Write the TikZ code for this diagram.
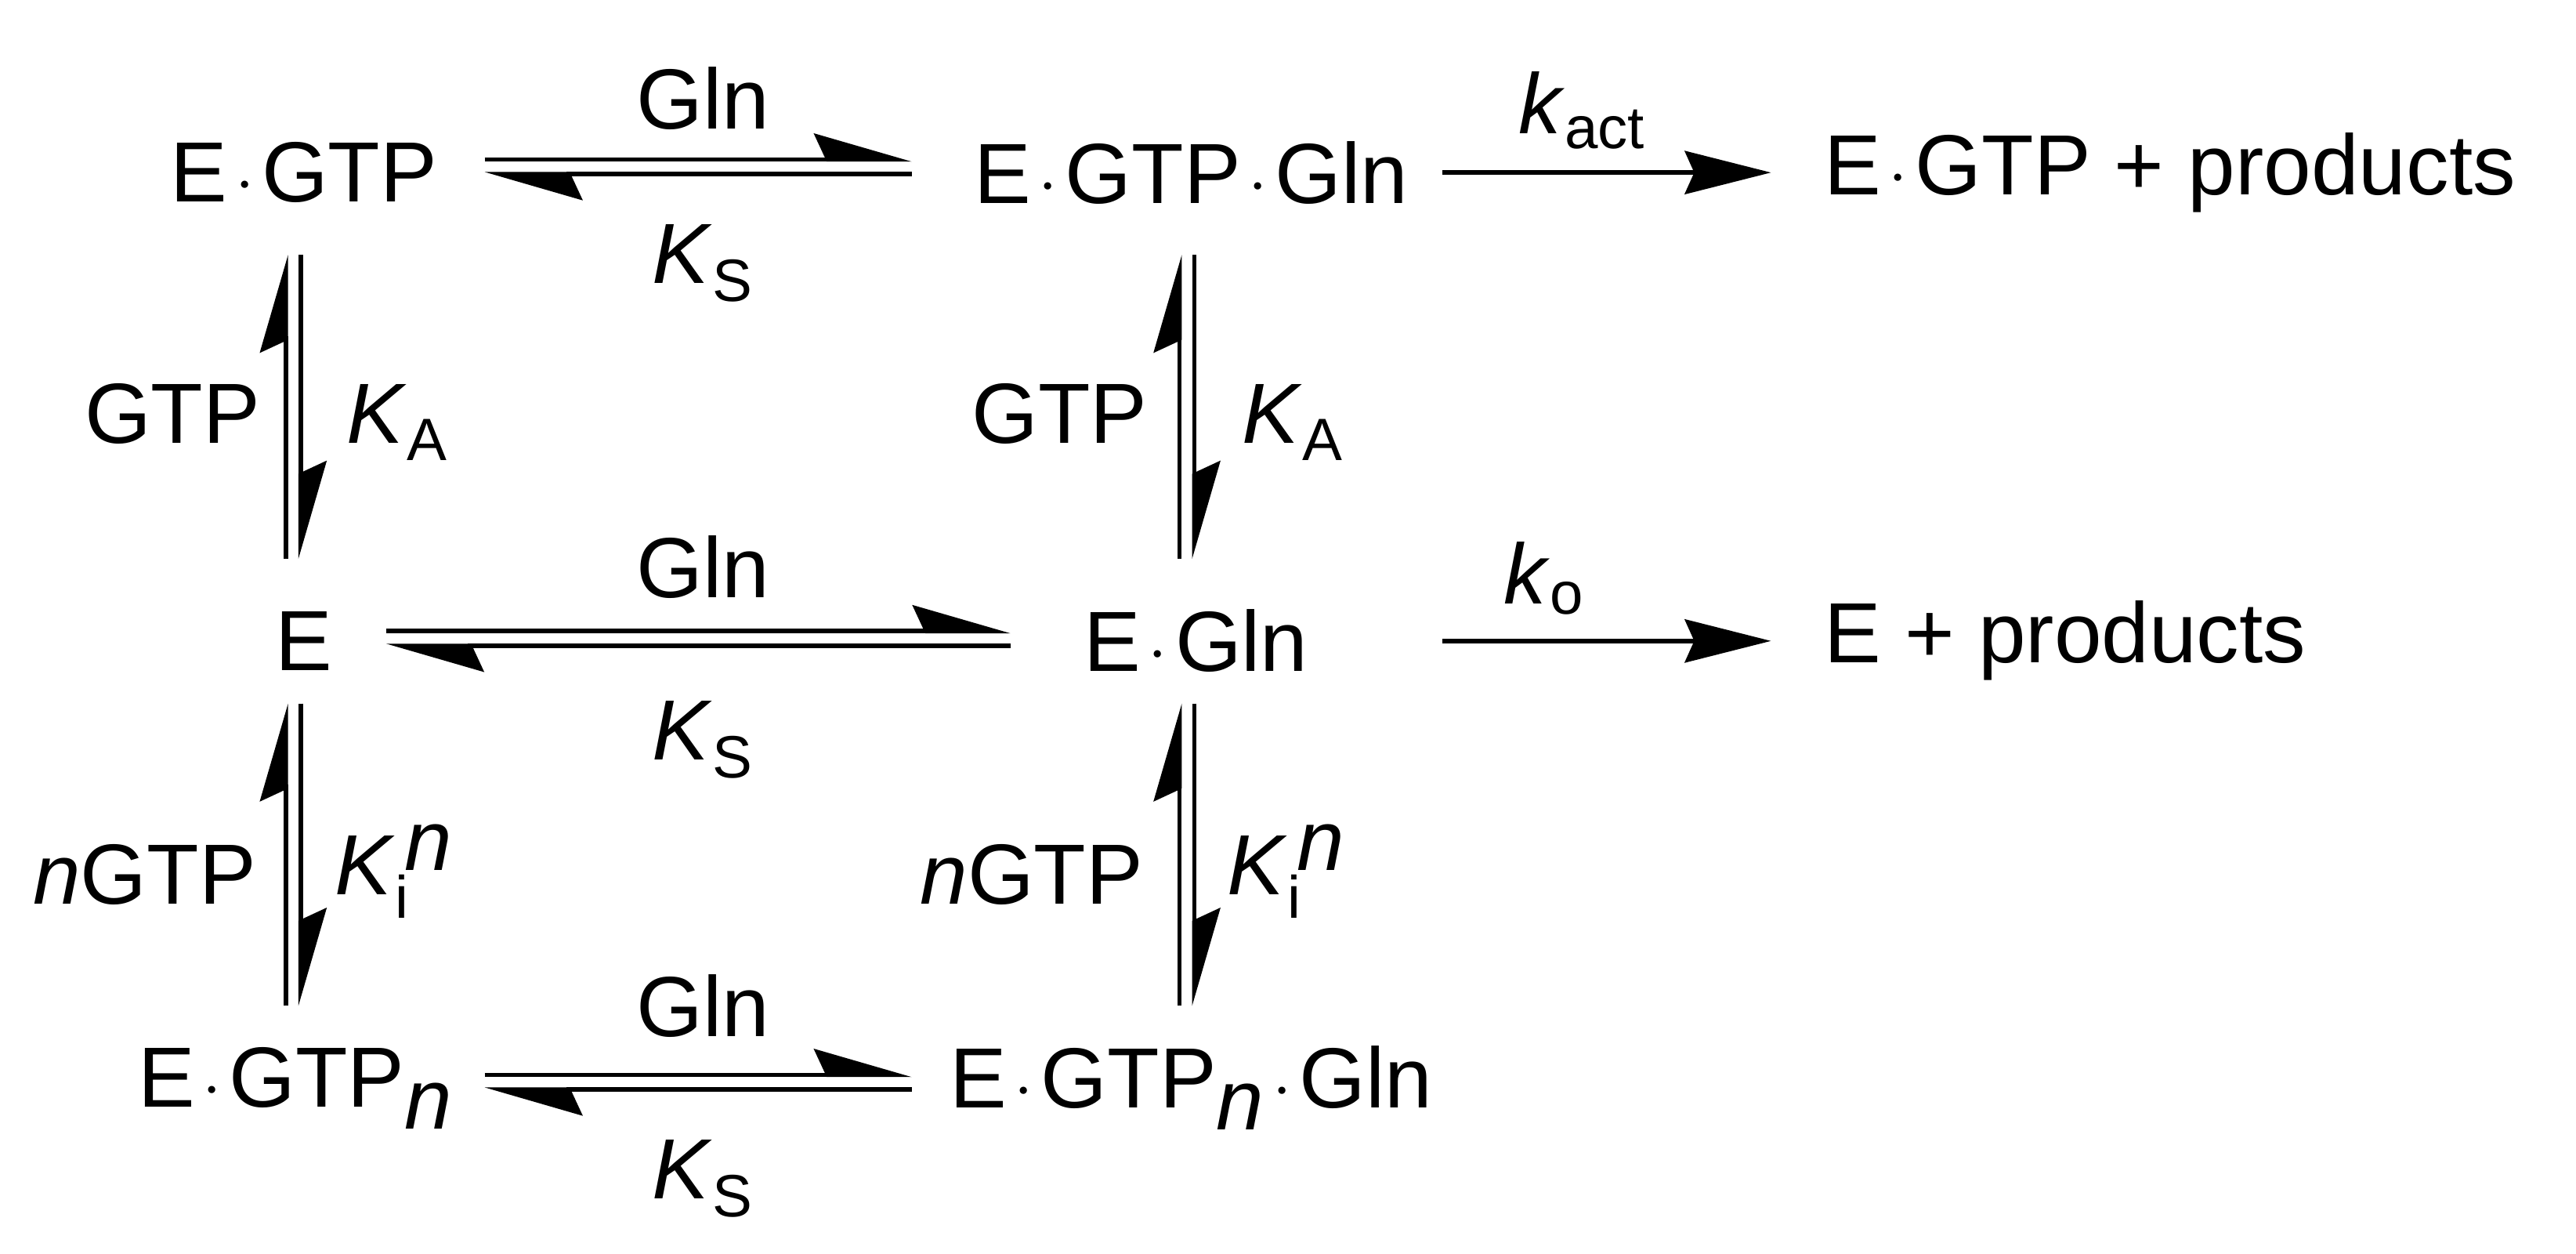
\documentclass[tikz,border=0pt]{standalone}
\usepackage{fontspec}
\setmainfont{Liberation Sans}
\usetikzlibrary{arrows.meta}
\newcommand{\dt}{$\mkern2mu\cdot\mkern2mu$}
\begin{document}
\begin{tikzpicture}[x=0.02097cm,y=-0.02097cm,
  lbl/.style={font=\fontsize{31}{36}\selectfont, inner sep=0pt},
  eq/.style={line width=1.6pt, -{Stealth[harpoon,length=1.15cm,width=0.66cm,inset=0.15cm]}},
  fw/.style={line width=1.6pt, -{Stealth[length=1.1cm,width=0.55cm,inset=0.12cm]}}]
\useasboundingbox (0,0) rectangle (1568,763);
% species
\node[lbl] (egtp) at (185,105) {E\dt GTP};
\node[lbl] (egtpgln) at (725,105) {E\dt GTP\dt Gln};
\node[lbl,anchor=west] (prod1) at (1110,105) {E\dt GTP + products};
\node[lbl] (e) at (185,390) {E};
\node[lbl] (egln) at (728,390) {E\dt Gln};
\node[lbl,anchor=west] (prod2) at (1110,390) {E + products};
\node[lbl] (egtpn) at (180,662) {E\dt GTP$_{\textit{n}}$};
\node[lbl] (egtpngln) at (725,662) {E\dt GTP$_{\textit{n}}$\dt Gln};
% labels
\node[lbl] (g1) at (428,60) {Gln};
\node[lbl] (s1) at (428,160) {\textit{K}$_{\mathrm{S}}$};
\node[lbl] (g2) at (428,345) {Gln};
\node[lbl] (s2) at (428,450) {\textit{K}$_{\mathrm{S}}$};
\node[lbl] (g3) at (428,612) {Gln};
\node[lbl] (s3) at (428,717) {\textit{K}$_{\mathrm{S}}$};
\node[lbl] (a1) at (105,252) {GTP};
\node[lbl] (ka1) at (242,257) {\textit{K}$_{\mathrm{A}}$};
\node[lbl] (a2) at (645,252) {GTP};
\node[lbl] (ka2) at (787,257) {\textit{K}$_{\mathrm{A}}$};
\node[lbl] (n1) at (88,532) {\textit{n}GTP};
\node[lbl] (ki1) at (240,530) {\textit{K}$_{\mathrm{i}}^{\,\textit{n}}$};
\node[lbl] (n2) at (628,532) {\textit{n}GTP};
\node[lbl] (ki2) at (783,530) {\textit{K}$_{\mathrm{i}}^{\,\textit{n}}$};
\node[lbl] (kact) at (963,67) {\textit{k}$_{\mathrm{act}}$};
\node[lbl] (ko) at (940,352) {\textit{k}$_{\mathrm{o}}$};
% coordinates
\coordinate (t1a) at (295,97); \coordinate (t1b) at (555,97);
\coordinate (t2a) at (295,106); \coordinate (t2b) at (555,106);
\coordinate (m1a) at (235,384); \coordinate (m1b) at (615,384);
\coordinate (m2a) at (235,393); \coordinate (m2b) at (615,393);
\coordinate (b1a) at (295,654); \coordinate (b1b) at (555,654);
\coordinate (b2a) at (295,663); \coordinate (b2b) at (555,663);
\coordinate (l1a) at (174,155); \coordinate (l1b) at (174,340);
\coordinate (l2a) at (183,155); \coordinate (l2b) at (183,340);
\coordinate (l3a) at (174,428); \coordinate (l3b) at (174,612);
\coordinate (l4a) at (183,428); \coordinate (l4b) at (183,612);
\coordinate (r1a) at (718,155); \coordinate (r1b) at (718,340);
\coordinate (r2a) at (727,155); \coordinate (r2b) at (727,340);
\coordinate (r3a) at (718,428); \coordinate (r3b) at (718,612);
\coordinate (r4a) at (727,428); \coordinate (r4b) at (727,612);
\coordinate (ka) at (878,105); \coordinate (kb) at (1078,105);
\coordinate (koa) at (878,390); \coordinate (kob) at (1078,390);
% arrows
\draw[eq] (t1a) -- (t1b); \draw[eq] (t2b) -- (t2a);
\draw[eq] (m1a) -- (m1b); \draw[eq] (m2b) -- (m2a);
\draw[eq] (b1a) -- (b1b); \draw[eq] (b2b) -- (b2a);
\draw[eq] (l1b) -- (l1a); \draw[eq] (l2a) -- (l2b);
\draw[eq] (l3b) -- (l3a); \draw[eq] (l4a) -- (l4b);
\draw[eq] (r1b) -- (r1a); \draw[eq] (r2a) -- (r2b);
\draw[eq] (r3b) -- (r3a); \draw[eq] (r4a) -- (r4b);
\draw[fw] (ka) -- (kb);
\draw[fw] (koa) -- (kob);
\end{tikzpicture}
\end{document}
